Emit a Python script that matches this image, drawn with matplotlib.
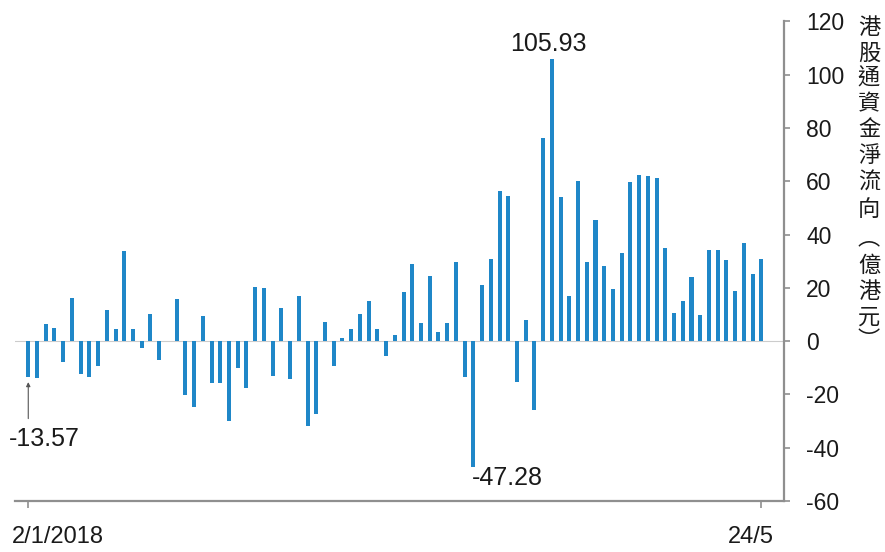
import matplotlib
matplotlib.use("Agg")
import matplotlib.pyplot as plt
import numpy as np

plt.rcParams['font.family'] = ['Liberation Sans', 'Noto Sans CJK TC', 'DejaVu Sans']

# Daily southbound net flow (HK$ 100m), 2 Jan 2018 - 24 May
flows = [
    -13.57, -13.7, 6.6, 4.9, -8.0, 16.1, -12.4, -13.4, -9.5, 11.6,
    4.4, 33.8, 4.4, -2.7, 10.3, -7.0, 0.0, 15.8, -20.3, -24.8,
    9.5, -15.6, -15.8, -29.9, -9.9, -17.6, 20.3, 20.1, -13.0, 12.3,
    -14.3, 17.0, -31.8, -27.4, 7.2, -9.4, 1.1, 4.7, 10.1, 15.1,
    4.7, -5.4, 2.4, 18.6, 28.8, 7.0, 24.6, 3.4, 6.9, 29.7,
    -13.5, -47.28, 21.1, 30.8, 56.3, 54.4, -15.3, 8.1, -25.7, 76.2,
    105.93, 54.1, 17.1, 60.0, 29.7, 45.4, 28.1, 19.6, 33.1, 59.7,
    62.3, 62.0, 61.4, 35.1, 10.6, 15.2, 24.1, 9.7, 34.1, 34.1,
    30.6, 19.0, 37.0, 25.3, 30.9,
]
x_tick_labels = ["2/1/2018", "24/5"]
y_ticks = [-60, -40, -20, 0, 20, 40, 60, 80, 100, 120]
y_title = "港股通資金淨流向︵億港元︶"

W, H = 885, 552
fig = plt.figure(figsize=(W / 100, H / 100), dpi=100)
ax = fig.add_axes([15 / W, (H - 501) / H, (784 - 15) / W, (501 - 21.5) / H])

idx = np.arange(len(flows))
ax.bar(idx, flows, width=0.46, color='#1f87c8', zorder=3)
ax.axhline(0, color='#cccccc', lw=0.8, zorder=1)

ax.set_xlim(-1.52, 86.6)
ax.set_ylim(-60, 120)

grey = '#8f8f8f'
for side in ('top', 'left'):
    ax.spines[side].set_visible(False)
for side in ('right', 'bottom'):
    ax.spines[side].set_color(grey)
    ax.spines[side].set_linewidth(1.6)

ax.yaxis.tick_right()
ax.set_yticks(y_ticks)
ax.set_yticklabels([str(v) for v in y_ticks])
ax.tick_params(axis='y', direction='out', length=4.5, width=1.2, color=grey,
               pad=11.5, labelsize=16.5, labelcolor='#1a1a1a')

ax.set_xticks([0, len(flows) - 1])
ax.set_xticklabels([])
ax.tick_params(axis='x', direction='out', length=5, width=1.2, color=grey)

# date labels under the ticks
ax.text(3.4, -0.075, x_tick_labels[0], transform=ax.get_xaxis_transform(),
        ha='center', va='center', fontsize=17, color='#1a1a1a')
ax.text(82.8, -0.075, x_tick_labels[1], transform=ax.get_xaxis_transform(),
        ha='center', va='center', fontsize=17, color='#1a1a1a')

# value callouts
first = flows[0]
ax.annotate('', xy=(0, first - 1.8), xytext=(0, first - 15.5),
            arrowprops=dict(arrowstyle='-|>', lw=0.8, color='#555555',
                            mutation_scale=6, shrinkA=0, shrinkB=0))
ax.text(1.8, -36.7, f"{first:.2f}", ha='center', va='center', fontsize=18,
        color='#1a1a1a')

imin = int(np.argmin(flows))
ax.text(imin - 0.2, flows[imin] - 4.0, f"{flows[imin]:.2f}", ha='left', va='center',
        fontsize=18, color='#1a1a1a')

imax = int(np.argmax(flows))
ax.text(imax - 0.4, flows[imax] + 5.5, f"{flows[imax]:.2f}", ha='center', va='center',
        fontsize=18, color='#1a1a1a')

# vertical axis title, one character per row
y_pos = [27, 53, 78, 104, 130, 156, 182, 210, 238, 265, 291, 317, 340]
for ch, yp in zip(y_title, y_pos):
    fig.text(869 / W, 1 - yp / H, ch, ha='center', va='center', fontsize=16,
             color='#1a1a1a', family=['Noto Sans CJK TC', 'DejaVu Sans'])

fig.savefig("out.png", dpi=100)
